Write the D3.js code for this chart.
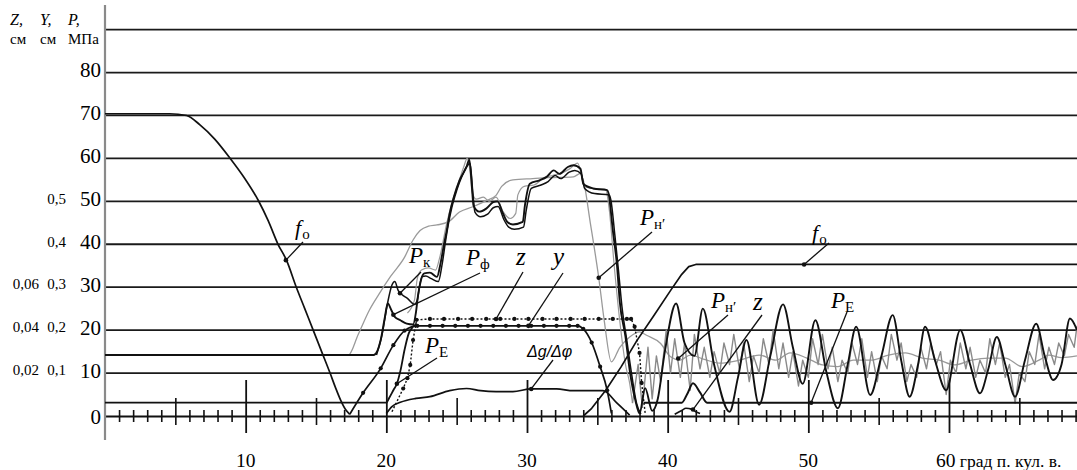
<!DOCTYPE html>
<html><head><meta charset="utf-8">
<script src="https://cdn.jsdelivr.net/npm/d3@7"></script>
<style>
body{margin:0;background:#fff}svg{display:block}
svg text{font-family:"Liberation Serif","Tinos","Times New Roman","DejaVu Serif","Noto Serif",serif !important}
svg text.sans{font-family:"Liberation Sans","Arimo",Arial,"DejaVu Sans",sans-serif !important}
</style></head>
<body><svg id="c" width="1077" height="470"></svg>
<script>
// ---------- DATA ----------
const pTicks = [0,10,20,30,40,50,60,70,80];
const gridLevels = [10,20,30,40,50,60,70,80,90];
const yLiftTicks = [10,20,30,40,50];
const yLiftLabels = ["0,1","0,2","0,3","0,4","0,5"];
const zTicks = [10,20,30];
const zLabels = ["0,02","0,04","0,06"];
const xTicks = [10,20,30,40,50];
const xLastTick = 60;
const xLastLabel = "60 град п. кул. в.";

// f_o (left)
const fO1 = [[0,70.4],[4.6,70.4],[5.8,70.0],[6.75,67.8],[7.8,64.5],[8.9,60],[9.9,55.5],[10.9,50.2],[11.6,45.5],[12.3,40],[12.9,36.3],[13.6,30],[14.2,25],[14.8,20],[15.4,15],[16.0,10],[16.4,6.5],[16.75,3.7],[17.1,1.5],[17.4,0.4]];
// f_o (right)
const fO2 = [[34.0,0],[34.6,1.8],[35.6,6],[36.7,11.5],[37.8,17.5],[39.0,23.3],[40.2,29.2],[41.0,33],[41.5,34.8],[42.0,35.3],[69.1,35.3]];
// y (needle lift)
const yLift = [[17.4,0.4],[18.35,5.4],[19.6,11.1],[20.5,16.5],[21.3,19.9],[22.2,21.0],[23.1,21.0],[24.0,21.0],[24.9,21.0],[25.8,21.0],[26.7,21.0],[27.6,21.0],[28.5,21.0],[29.4,21.0],[30.3,21.0],[31.2,21.0],[32.1,21.0],[33.0,21.0],[33.6,21.0],[34.0,20.3],[34.6,17.1],[35.2,11.5],[35.7,6],[36.0,0.6]];
// z
const zStroke = [[20.4,1],[21.2,6.4],[21.5,8.8],[21.7,11.9],[21.9,17.7],[22.15,22.4],[23.1,22.6],[24.1,22.6],[25.1,22.6],[26.1,22.6],[27.1,22.6],[28.1,22.6],[29.1,22.6],[30.1,22.6],[31.1,22.6],[32.1,22.6],[33.1,22.6],[34.1,22.6],[35.1,22.6],[36.1,22.6],[37.1,22.6],[37.4,22.6],[37.65,20.8],[38.0,14.7],[38.15,7.7],[38.4,0.7]];
const zRight = [[40.5,0.4],[41.0,1.3],[41.3,1.8],[41.7,1.6],[42.0,1.0],[42.3,0.6]];
// dg/dphi
const dgdphi = [[20.0,0.6],[20.4,2.2],[21.0,3.2],[22.1,4.1],[23.1,4.5],[24.5,5.9],[25.7,6.4],[26.7,5.9],[27.8,5.7],[29.0,5.7],[30.3,6.3],[32.1,6.3],[33.3,5.9],[35.4,5.9],[36.4,3.0],[37.3,0.2]];
// P_E
const pE = [[0,3.1],[20.0,3.1],[20.2,4.2],[20.5,6],[20.75,7.5],[21.0,10.5],[21.3,15.5],[21.6,19.3],[21.9,20.8],[22.15,21.5]];
const pERight = [[38.3,3.1],[41.0,3.1],[41.4,5.2],[41.8,7.6],[42.3,5.5],[42.8,3.1],[69.1,3.1]];
// P_ф + P_н' oscillation (black, main)
const pF = [[0,14.2],[19.1,14.2],[19.6,17.7],[19.9,23.1],[20.1,26.2],[20.35,24.7],[20.6,23.1],[21.0,22.3],[21.45,21.5],[21.9,21.3],[22.1,24],[22.25,28],[22.45,31.5],[22.7,33.2],[23.1,33.4],[23.6,32.4],[23.85,35.5],[24.1,40],[24.3,43.3],[24.5,47.1],[24.8,51],[25.2,54.9],[25.7,58],[25.9,59.7],[26.05,55],[26.2,49],[26.6,47.6],[27.1,48.3],[27.6,49.8],[27.9,50],[28.3,47.1],[28.6,45.2],[29.0,44.6],[29.7,45.2],[29.85,49],[30.2,54.1],[30.9,54.9],[31.4,55.7],[31.9,57.2],[32.3,56.4],[32.9,58],[33.3,58.4],[33.8,57.6],[34.0,54.1],[34.7,53],[35.7,52.6],[35.8,51.8],[36.1,43.3],[36.4,35],[36.6,26.5],[37.0,18.5],[37.3,10.7],[37.7,3.7],[38.0,0.6],
 [38.4,6.5],[38.9,1.2],[39.3,4],[39.8,15],[40.6,26.2],[41.2,17],[41.9,14],[42.5,25],[43.3,12],[44.4,1],[45.0,9],[45.6,17.7],[46.5,2.6],[47.3,14],[48.2,26],[48.9,16],[49.6,7.5],[50.5,22.3],[51.3,10],[52.1,1.8],[52.8,12],[53.4,20.8],[54.4,4.9],[55.2,14],[56.0,23.5],[56.6,13],[57.2,4.5],[57.8,12],[58.3,20.8],[59.0,13],[59.8,6],[60.8,20],[61.5,12],[62.2,5.3],[62.8,11],[63.4,18.4],[64.0,12],[64.7,4.5],[65.4,13],[66.2,21.5],[66.8,14],[67.4,8.4],[68.0,12],[68.6,22.7],[69.1,20]];
// P_к (black, second)
const pK = [[19.3,14.2],[19.7,19],[20.1,26.5],[20.4,30.5],[20.6,31.3],[20.85,29.2],[21.1,28.3],[21.5,27.4],[22.0,26],[22.2,27],[22.35,30],[22.55,32.5],[22.8,32.6],[23.2,32],[23.7,31.3],[23.95,35],[24.2,40.5],[24.4,44.5],[24.65,48.5],[25.0,52.5],[25.4,56],[25.8,58.5],[25.95,58.8],[26.15,52],[26.3,47.5],[26.7,46.4],[27.2,47],[27.6,48.5],[27.95,48.8],[28.35,45.8],[28.7,44],[29.1,43.5],[29.75,44],[29.95,48],[30.3,53],[31.0,53.8],[31.5,54.6],[32.0,56],[32.4,55.3],[33.0,56.8],[33.4,57.2],[33.85,56.4],[34.1,53],[34.8,51.8],[35.85,51.5],[35.95,50.5],[36.25,42],[36.5,34],[36.75,25.5],[37.1,17.5],[37.45,9.5],[37.8,2.8],[38.1,0.5]];
// gray P_н'
const pGray1 = [[0,14.2],[17.3,14.2],[18.0,19],[18.8,24.7],[19.5,28.5],[20.3,32.5],[21.3,37],[21.9,41],[22.4,43.2],[23.0,44.2],[23.6,44.5],[24.4,45.2],[25.2,47.5],[26.2,48.8],[27.0,50],[27.8,51.4],[28.2,53.5],[29.0,55],[30.4,55.3],[31.5,55.5],[33.3,55.7],[33.8,56.5],[34.0,55],[34.5,45],[35.1,32.2],[35.5,22],[36.0,12.6],[36.6,16],[37.3,18.4],[38.0,19.6],[38.5,18.8],[39.5,16.9],[40.2,13.8],[40.9,13],[41.6,14.2],[42.6,13.2],[43.7,12.3],[45.1,13],[46.5,14.2],[47.7,13],[48.7,14.7],[49.9,13.5],[51.0,11.9],[52.1,11.5],[53.2,13],[54.5,13],[55.7,14.2],[56.9,14.7],[58.1,13.5],[59.3,13],[60.4,11.9],[61.6,13],[62.8,13.5],[64.0,13.5],[65.2,11.5],[66.4,13],[67.1,14.2],[68.0,13.6],[69.1,14]];
// gray, tracking the black in the peak region
const pGray2 = [[21.5,24],[22.0,27],[22.2,32],[22.5,34],[23.0,34.5],[23.5,34],[23.8,37],[24.3,45],[24.7,50],[25.1,54],[25.5,58],[25.75,60],[25.95,57],[26.1,52],[26.4,50.5],[26.9,51],[27.3,50],[27.8,51],[28.3,47.6],[28.8,46],[29.2,47.2],[29.35,51.5],[29.8,53.5],[30.5,53.8],[31.2,55.5],[31.8,56],[32.4,56.5],[33.0,57.5],[33.6,58.9],[34.1,53.4],[35.0,52.8],[35.6,52.6],[35.85,48],[36.2,35],[36.6,22],[37.0,12],[37.3,7.6],[37.5,3]];
// gray noisy
const pNoise = [[37.5,3],[37.9,12],[38.2,2],[38.6,16],[38.9,4],[39.2,14],[39.5,8],[39.9,20],[40.2,10],[40.5,18],[40.9,9],[41.2,17],[41.6,6],[41.9,19],[42.3,11],[42.6,16],[43.0,9],[43.3,15],[43.7,10],[44.0,17],[44.4,12],[44.7,19],[45.1,11],[45.4,17],[45.8,8],[46.1,14],[46.5,10],[46.8,18],[47.2,12],[47.5,20],[47.9,11],[48.2,17],[48.6,9],[48.9,15],[49.3,7],[49.6,13],[50.0,9],[50.3,18],[50.7,12],[51.0,19],[51.4,11],[51.7,16],[52.1,8],[52.4,13],[52.8,10],[53.1,17],[53.5,12],[53.8,18],[54.2,9],[54.5,15],[54.9,8],[55.2,14],[55.6,11],[55.9,19],[56.3,13],[56.6,17],[57.0,8],[57.3,12],[57.7,9],[58.0,16],[58.4,11],[58.7,17],[59.1,12],[59.4,15],[59.8,5],[60.1,13],[60.5,10],[60.8,17],[61.2,11],[61.5,16],[61.9,9],[62.2,13],[62.6,10],[62.9,18],[63.3,12],[63.6,17],[64.0,9],[64.3,12],[64.7,3],[65.0,10],[65.4,8],[65.7,15],[66.1,12],[66.4,19],[66.8,11],[67.1,16],[67.5,12],[67.8,17],[68.2,14],[68.5,19],[68.9,16],[69.1,21]];

// ---------- CHART ----------
const svg = d3.select("#c");
const x = d3.scaleLinear().domain([0, 69.1]).range([105, 1077]);
const y = d3.scaleLinear().domain([0, 90]).range([416, 29.6]);
const line = d3.line().x(d=>x(d[0])).y(d=>y(d[1])).curve(d3.curveMonotoneX);
const lineLin = d3.line().x(d=>x(d[0])).y(d=>y(d[1]));

// grid
svg.append("g").selectAll("line").data(gridLevels).join("line")
  .attr("x1", x(0)).attr("x2", 1077).attr("y1", d=>y(d)).attr("y2", d=>y(d))
  .attr("stroke", "#1a1a1a").attr("stroke-width", 1.8);

// x axis with custom ticks
const xAxisG = svg.append("g").attr("transform", `translate(0,${y(0)})`)
  .call(d3.axisBottom(x).tickValues(d3.range(1, 70)).tickSize(0).tickFormat(""));
xAxisG.select(".domain").attr("stroke", "#111").attr("stroke-width", 2);
xAxisG.selectAll(".tick line").remove();
xAxisG.selectAll(".tick").append("line")
  .attr("stroke", "#111").attr("stroke-width", d => d%10===0 ? 1.8 : 1.6)
  .attr("y1", d => d%10===0 ? -36 : d%5===0 ? -18 : -6)
  .attr("y2", d => d%10===0 ? 17 : d%5===0 ? 9 : 6);

// x tick labels
svg.append("g").selectAll("text").data(xTicks).join("text")
  .attr("x", d=>x(d)).attr("y", 467).attr("text-anchor","middle")
  .attr("font-size", 19.5).text(d=>d);
const last = svg.append("text").attr("x", x(xLastTick)-13).attr("y", 467).attr("font-size", 19.5);
last.append("tspan").text(xLastLabel.split(" ")[0]);
last.append("tspan").attr("font-size", 17.5).text(" " + xLastLabel.split(" ").slice(1).join(" "));

// y axis line
svg.append("line").attr("x1", x(0)).attr("x2", x(0)).attr("y1", 5).attr("y2", 440)
  .attr("stroke", "#8a8a8a").attr("stroke-width", 2.2);

// y tick labels (P)
const yAxisG = svg.append("g").attr("transform", `translate(${x(0)-4},0)`)
  .call(d3.axisLeft(y).tickValues(pTicks).tickSize(0).tickPadding(0));
yAxisG.select(".domain").remove();
yAxisG.selectAll("text").attr("font-size", 21).attr("fill","#000")
  .attr("dy", d => d===0 ? "0.34em" : "0.2em");
// y lift labels
svg.append("g").selectAll("text").data(yLiftTicks).join("text")
  .attr("x", 66).attr("y", d=>y(d)).attr("dy","0.15em").attr("text-anchor","end")
  .attr("font-size", 15).text((d,i)=>yLiftLabels[i]);
svg.append("g").selectAll("text").data(zTicks).join("text")
  .attr("x", 39).attr("y", d=>y(d)).attr("dy","0.15em").attr("text-anchor","end")
  .attr("font-size", 15).text((d,i)=>zLabels[i]);

// header
const hdr = [["Z,",10,"см",10],["Y,",40,"см",40],["P,",68,"МПа",68]];
hdr.forEach(h=>{
  svg.append("text").attr("x",h[1]).attr("y",25).attr("font-style","italic").attr("font-size",16).text(h[0]);
  svg.append("text").attr("x",h[3]).attr("y",44).attr("font-size",15).text(h[2]);
});

// curves
function path(data, color, w, gen, dash){
  const p = svg.append("path").datum(data).attr("d", (gen||line)).attr("fill","none")
    .attr("stroke", color).attr("stroke-width", w).attr("stroke-linejoin","round");
  if (dash) p.attr("stroke-dasharray", dash);
  return p;
}
path(pGray1, "#9a9a9a", 1.3);
path(pGray2, "#9a9a9a", 1.2);
path(pNoise, "#8a8a8a", 1.4, lineLin);
path(fO1, "#111", 1.7);
path(fO2, "#111", 1.7, lineLin);
path(pE, "#111", 1.8);
path(pERight, "#111", 2.0);
path(dgdphi, "#111", 1.7);
path(yLift, "#111", 1.7);
path(zStroke, "#111", 1.4, lineLin, "2,2");
path(zRight, "#111", 1.6);
path(pK, "#111", 1.5);
path(pF, "#111", 1.9);

// dots on y and z
svg.append("g").selectAll("circle").data(yLift.slice(1,-1)).join("circle")
  .attr("cx", d=>x(d[0])).attr("cy", d=>y(d[1])).attr("r", 2.1).attr("fill","#111");
svg.append("g").selectAll("circle").data(zStroke.slice(1,-1)).join("circle")
  .attr("cx", d=>x(d[0])).attr("cy", d=>y(d[1])).attr("r", 2.1).attr("fill","#111");

// annotations
const ann = [
  {m:"f", s:"о", lx:295, ly:235, px:303, py:242, t:[12.86,36.3], fs:22},
  {m:"f", s:"о", lx:812, ly:240, px:829, py:243, t:[49.7,35.3], fs:22},
  {m:"P", s:"к", lx:409, ly:263, px:421, py:272, t:[20.97,28.6], fs:23},
  {m:"P", s:"ф", lx:466, ly:265, px:480, py:273, t:[20.5,23.6], fs:23},
  {m:"z", s:"", lx:516, ly:265, px:523, py:272, t:[27.8,22.6], fs:25},
  {m:"y", s:"", lx:553, ly:265, px:563, py:273, t:[30.1,21.0], fs:25},
  {m:"P", s:"н′", lx:640, ly:225, px:652, py:232, t:[35.1,32.2], fs:23},
  {m:"P", s:"E", lx:425, ly:353, px:437, py:358, t:[20.75,7.5], fs:23},
  {m:"P", s:"н′", lx:711, ly:308, px:728, py:315, t:[40.75,13.4], fs:23},
  {m:"z", s:"", lx:753, ly:310, px:762, py:315, t:[41.8,1.5], fs:25},
  {m:"P", s:"E", lx:831, ly:308, px:847, py:312, t:[50.2,3.1], fs:23}
];
ann.forEach(a=>{
  const t = svg.append("text").attr("x",a.lx).attr("y",a.ly);
  t.append("tspan").attr("font-style","italic").attr("font-size",a.fs).text(a.m);
  if (a.s) t.append("tspan").attr("font-size",15).attr("dy",4).attr("dx", a.m==="f"?1:0).text(a.s);
  svg.append("line").attr("x1",a.px).attr("y1",a.py).attr("x2",x(a.t[0])).attr("y2",y(a.t[1]))
    .attr("stroke","#111").attr("stroke-width",1.3);
  svg.append("circle").attr("cx",x(a.t[0])).attr("cy",y(a.t[1])).attr("r",2.3).attr("fill","#111");
});
// dg/dphi label
svg.append("text").attr("class","sans").attr("x",527).attr("y",357)
  .attr("font-style","italic").attr("font-size",16).text("Δg/Δφ");
svg.append("line").attr("x1",553).attr("y1",360).attr("x2",x(30.3)).attr("y2",y(6.3)).attr("stroke","#111").attr("stroke-width",1.3);
svg.append("circle").attr("cx",x(30.3)).attr("cy",y(6.3)).attr("r",2.3).attr("fill","#111");
</script></body></html>
